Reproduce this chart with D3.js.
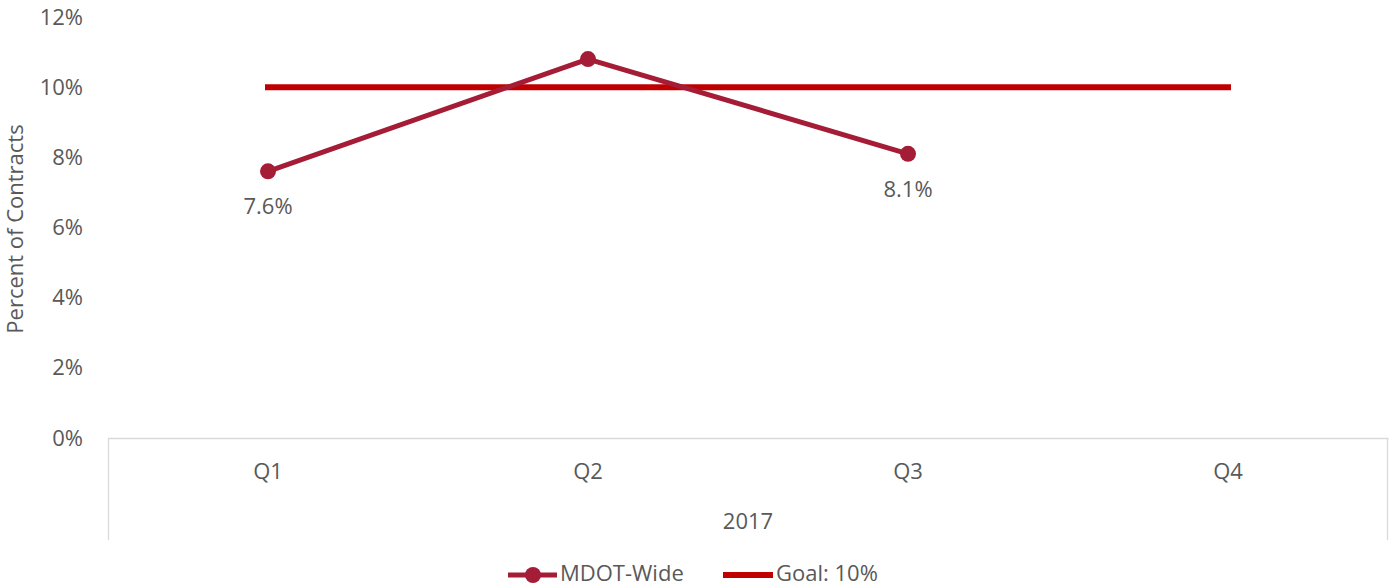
<!DOCTYPE html>
<html><head><meta charset="utf-8">
<script src="https://cdn.jsdelivr.net/npm/d3@7"></script>
<style>body{margin:0;background:#fff}text{font-family:"Open Sans",sans-serif;fill:#595959}</style>
</head><body><svg id="c" width="1389" height="586"></svg>
<script>
const categories = ["Q1","Q2","Q3","Q4"];
const groupLabel = "2017";
const mdotValues = [7.6, 10.8, 8.1, null];
const mdotLabels = ["7.6%", null, "8.1%", null];
const goalValues = [10, 10, 10, 10];
const yTicks = [0,2,4,6,8,10,12];
const seriesNames = ["MDOT-Wide","Goal: 10%"];

(function(){
const FS = "22px";
const svg = d3.select("#c");
const mLeft = 108, mRight = 1388, mTop = 17, mBottom = 438;
const x = d3.scaleBand().domain(categories).range([mLeft, mRight]);
const y = d3.scaleLinear().domain([0,12]).range([mBottom, mTop]);
const cx = d => x(d) + x.bandwidth()/2;

const ya = svg.append("g").attr("transform", `translate(${mLeft},0)`)
  .call(d3.axisLeft(y).tickValues(yTicks).tickFormat(d => d + "%").tickSize(0).tickPadding(25));
ya.select(".domain").remove();
ya.attr("font-family",null).attr("font-size",null);
ya.selectAll("text").style("font-size",FS).attr("fill","#595959");

const xa = svg.append("g").attr("transform", `translate(0,${mBottom})`)
  .call(d3.axisBottom(x).tickSize(0).tickPadding(25));
xa.attr("font-family",null).attr("font-size",null);
xa.select(".domain").attr("stroke","#d9d9d9").attr("stroke-width",1.3);
xa.selectAll("text").style("font-size",FS).attr("fill","#595959");
svg.append("line").attr("x1",mLeft+0.5).attr("x2",mLeft+0.5).attr("y1",mBottom).attr("y2",540).attr("stroke","#d9d9d9").attr("stroke-width",1.3);
svg.append("line").attr("x1",mRight-0.5).attr("x2",mRight-0.5).attr("y1",mBottom).attr("y2",540).attr("stroke","#d9d9d9").attr("stroke-width",1.3);
svg.append("text").attr("x",(mLeft+mRight)/2).attr("y",529).attr("text-anchor","middle").style("font-size",FS).text(groupLabel);

svg.append("text").attr("transform","translate(23,229) rotate(-90)").attr("text-anchor","middle").style("font-size",FS).text("Percent of Contracts");

svg.append("path").datum(categories.map((c,i)=>[cx(c), y(goalValues[i])]))
  .attr("d", d3.line()).attr("fill","none").attr("stroke","#c00000").attr("stroke-width",6).attr("stroke-linecap","square");

const pts = categories.map((c,i)=>({c, v: mdotValues[i], l: mdotLabels[i]})).filter(d=>d.v!=null);
svg.append("path").datum(pts).attr("d", d3.line().x(d=>cx(d.c)).y(d=>y(d.v)))
  .attr("fill","none").attr("stroke","#a51c36").attr("stroke-width",5).attr("stroke-linejoin","round");
svg.selectAll("circle.m").data(pts).join("circle").attr("class","m")
  .attr("cx",d=>cx(d.c)).attr("cy",d=>y(d.v)).attr("r",8).attr("fill","#a51c36");
svg.selectAll("text.lbl").data(pts.filter(d=>d.l)).join("text").attr("class","lbl")
  .attr("x",d=>cx(d.c)).attr("y",d=>y(d.v)+43).attr("text-anchor","middle").style("font-size",FS).text(d=>d.l);

const lg = svg.append("g");
lg.append("line").attr("x1",508).attr("x2",557).attr("y1",575).attr("y2",575).attr("stroke","#a51c36").attr("stroke-width",5);
lg.append("circle").attr("cx",533).attr("cy",575).attr("r",8).attr("fill","#a51c36");
lg.append("text").attr("x",560).attr("y",581).style("font-size",FS).text(seriesNames[0]);
lg.append("line").attr("x1",723).attr("x2",773).attr("y1",575).attr("y2",575).attr("stroke","#c00000").attr("stroke-width",6);
lg.append("text").attr("x",776).attr("y",581).style("font-size",FS).text(seriesNames[1]);
})();
</script></body></html>
